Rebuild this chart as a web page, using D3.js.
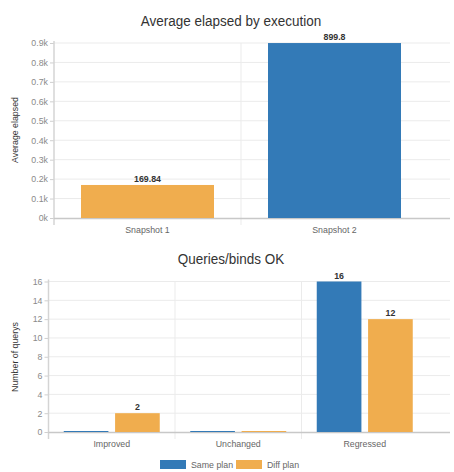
<!DOCTYPE html>
<html><head><meta charset="utf-8">
<script src="https://cdn.jsdelivr.net/npm/d3@7"></script>
<style>
html,body{margin:0;padding:0;background:#fff;}
svg{display:block;font-family:"Liberation Sans", Arial, sans-serif;}
</style></head>
<body>
<svg id="c" width="454" height="472"></svg>
<script>
// Top chart data
const snapCategories = ["Snapshot 1", "Snapshot 2"];
const snapValues = [169.84, 899.8];
const snapColors = ["#f0ad4e", "#337ab7"];
const snapTicks = [0, 100, 200, 300, 400, 500, 600, 700, 800, 900];

// Bottom chart data
const queryCategories = ["Improved", "Unchanged", "Regressed"];
const seriesNames = ["Same plan", "Diff plan"];
const samePlan = [0, 0, 16];
const diffPlan = [2, 0, 12];
const queryTicks = [0, 2, 4, 6, 8, 10, 12, 14, 16];
const seriesColors = ["#337ab7", "#f0ad4e"];

const svg = d3.select("#c");
const FONT = "'Liberation Sans', Arial, sans-serif";
const gridColor = "#ebebeb";
const axisColor = "#d4d4d4";
const tickText = "#8a8a8a";
const small = 8.8;

function drawFrame(opts) {
  const {x0, xRight, y, yTop, yBot, ticks, fmt, title, titleY, ylabel, ylabelY, x} = opts;
  const g = svg.append("g");
  g.selectAll("line.h").data(ticks.slice(1)).join("line")
    .attr("x1", x0).attr("x2", xRight)
    .attr("y1", d => y(d)).attr("y2", d => y(d))
    .attr("stroke", gridColor).attr("stroke-width", 1);
  const bounds = x.domain().slice(1).map(c => x(c));
  g.selectAll("line.v").data(bounds).join("line")
    .attr("x1", d => d).attr("x2", d => d)
    .attr("y1", yTop).attr("y2", yBot + 7)
    .attr("stroke", gridColor).attr("stroke-width", 1);
  const ya = d3.axisLeft(y).tickValues(ticks).tickFormat(fmt).tickSize(4).tickPadding(2);
  const yg = g.append("g").attr("transform", `translate(${x0},0)`).call(ya);
  yg.select(".domain").remove();
  yg.selectAll(".tick line").attr("stroke", "#cfcfcf");
  yg.selectAll(".tick text").attr("fill", tickText).attr("font-size", small).attr("font-family", FONT);
  g.append("line").attr("x1", x0).attr("x2", x0).attr("y1", yTop - 2).attr("y2", yBot + 7)
    .attr("stroke", axisColor).attr("stroke-width", 1.5);
  g.append("line").attr("x1", x0).attr("x2", xRight).attr("y1", yBot + 0.5).attr("y2", yBot + 0.5)
    .attr("stroke", "#c8c8c8").attr("stroke-width", 1.5);
  const xa = d3.axisBottom(x).tickSize(0).tickPadding(9);
  const xg = g.append("g").attr("transform", `translate(0,${yBot})`).call(xa);
  xg.select(".domain").remove();
  xg.selectAll(".tick text").attr("fill", "#666").attr("font-size", small).attr("font-family", FONT);
  svg.append("text").attr("transform", `translate(231,${titleY}) scale(0.87,1)`)
    .attr("text-anchor", "middle")
    .attr("font-size", 15.5).attr("fill", "#333").text(title);
  svg.append("text").attr("transform", `translate(18,${ylabelY}) rotate(-90)`)
    .attr("text-anchor", "middle").attr("font-size", small).attr("fill", "#333").text(ylabel);
}

// ---------- top chart ----------
{
  const x = d3.scaleBand().domain(snapCategories).range([54, 428]);
  const y = d3.scaleLinear().domain([0, 900]).range([218, 43]);
  drawFrame({x0: 54, xRight: 450, y, yTop: 43, yBot: 218, ticks: snapTicks,
    fmt: d => (d / 1000) + "k", title: "Average elapsed by execution", titleY: 25.5,
    ylabel: "Average elapsed", ylabelY: 130, x});
  const bw = 133;
  const g = svg.append("g");
  g.selectAll("rect").data(snapValues).join("rect")
    .attr("x", (d, i) => x(snapCategories[i]) + x.bandwidth() / 2 - bw / 2)
    .attr("y", d => y(d))
    .attr("width", bw)
    .attr("height", d => y(0) - y(d))
    .attr("fill", (d, i) => snapColors[i]);
  g.selectAll("text").data(snapValues).join("text")
    .attr("x", (d, i) => x(snapCategories[i]) + x.bandwidth() / 2)
    .attr("y", d => y(d) - 3)
    .attr("text-anchor", "middle").attr("font-size", small).attr("font-weight", "bold")
    .attr("fill", "#333").text(d => d);
}

// ---------- bottom chart ----------
{
  const x = d3.scaleBand().domain(queryCategories).range([48.5, 428]);
  const y = d3.scaleLinear().domain([0, 16]).range([432, 281.5]);
  drawFrame({x0: 48.5, xRight: 450, y, yTop: 281.5, yBot: 432, ticks: queryTicks,
    fmt: d => d, title: "Queries/binds OK", titleY: 263.5,
    ylabel: "Number of querys", ylabelY: 357, x});
  const groupW = 96;
  const xs = d3.scaleBand().domain(seriesNames).range([0, groupW]).paddingInner(0.13);
  const rows = [];
  queryCategories.forEach((c, i) => {
    rows.push({c, s: seriesNames[0], v: samePlan[i], col: seriesColors[0]});
    rows.push({c, s: seriesNames[1], v: diffPlan[i], col: seriesColors[1]});
  });
  const gx = d => x(d.c) + x.bandwidth() / 2 - groupW / 2 + xs(d.s);
  const g = svg.append("g");
  g.selectAll("rect").data(rows).join("rect")
    .attr("x", gx)
    .attr("y", d => Math.min(y(d.v), y(0) - 1))
    .attr("width", xs.bandwidth())
    .attr("height", d => Math.max(y(0) - y(d.v), 1))
    .attr("fill", d => d.col);
  g.selectAll("text").data(rows.filter(d => d.v > 0)).join("text")
    .attr("x", d => gx(d) + xs.bandwidth() / 2)
    .attr("y", d => y(d.v) - 3)
    .attr("text-anchor", "middle").attr("font-size", small).attr("font-weight", "bold")
    .attr("fill", "#333").text(d => d.v);

  const lg = svg.append("g").attr("transform", "translate(160,460)");
  const lx = [0, 76];
  seriesNames.forEach((n, i) => {
    lg.append("rect").attr("x", lx[i]).attr("y", 0).attr("width", 26).attr("height", 9).attr("fill", seriesColors[i]);
    lg.append("text").attr("x", lx[i] + 31).attr("y", 8).attr("font-size", small).attr("fill", "#666").text(n);
  });
}
</script>
</body></html>
